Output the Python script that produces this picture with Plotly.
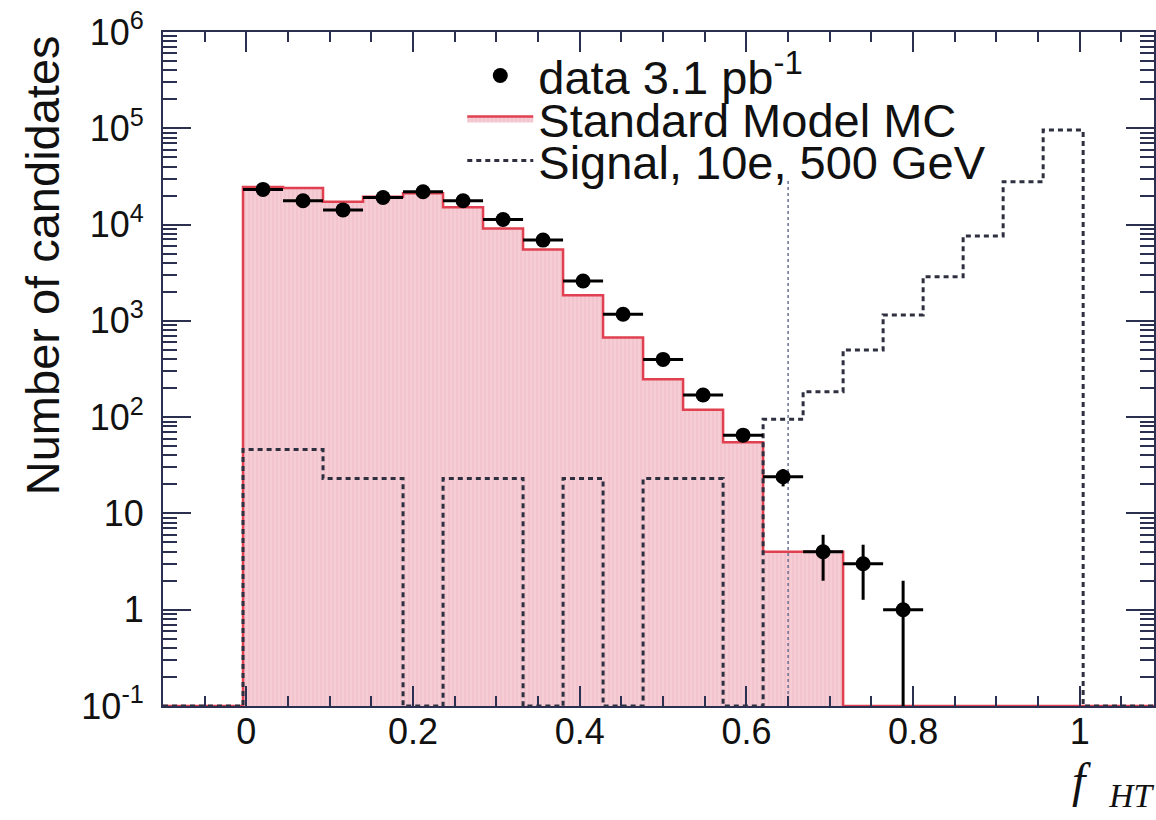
import numpy as np
import plotly.graph_objects as go

# ---------------- data ----------------
bin_edges = [-0.1, -0.052, -0.004, 0.044, 0.092, 0.14, 0.188, 0.236, 0.284, 0.332,
             0.38, 0.428, 0.476, 0.524, 0.572, 0.62, 0.668, 0.716, 0.764, 0.812,
             0.86, 0.908, 0.956, 1.004, 1.052, 1.1]

sm_mc = [0, 0, 24500, 24000, 17300, 19400, 21100, 15100, 9100, 5500, 1850, 670,
         247, 119, 55, 4, 4, 0, 0, 0, 0, 0, 0, 0, 0]

data_counts = [0, 0, 23200, 17700, 14200, 19100, 21900, 17700, 11300, 6900, 2590,
               1170, 398, 170, 65, 24, 4, 3, 1, 0, 0, 0, 0, 0, 0]

signal = [0, 0, 46, 46, 23, 23, 0, 23, 23, 0, 23, 0, 23, 23, 0, 95, 184, 497,
          1150, 2870, 7600, 27900, 95700, 0, 0]

cut_x = 0.65
cut_top = 2.9e4

x_ticks = [0, 0.2, 0.4, 0.6, 0.8, 1.0]
x_ticktext = ["0", "0.2", "0.4", "0.6", "0.8", "1"]
y_ticks = [0.1, 1, 10, 100, 1e3, 1e4, 1e5, 1e6]
y_ticktext = ["10<sup>-1</sup>", "1", "10", "10<sup>2</sup>", "10<sup>3</sup>",
              "10<sup>4</sup>", "10<sup>5</sup>", "10<sup>6</sup>"]

legend_labels = ["data 3.1 pb<sup>-1</sup>", "Standard Model MC", "Signal, 10e, 500 GeV"]

# ---------------- helpers ----------------
Y_FLOOR = 0.1


def step_xy(edges, vals, floor):
    xs, ys = [], []
    for i, v in enumerate(vals):
        y = v if v > 0 else floor
        xs += [edges[i], edges[i + 1]]
        ys += [y, y]
    return xs, ys


centers = [(bin_edges[i] + bin_edges[i + 1]) / 2 for i in range(len(data_counts))]
half_w = [(bin_edges[i + 1] - bin_edges[i]) / 2 for i in range(len(data_counts))]
dx, dy, ex, eyp, eym = [], [], [], [], []
for c, hw, n in zip(centers, half_w, data_counts):
    if n > 0:
        dx.append(c)
        dy.append(n)
        ex.append(hw)
        e = np.sqrt(n)
        eyp.append(e)
        eym.append(n - max(n - e, 1e-3))

AX = "#2b3050"
FONT = "Liberation Sans"

fig = go.Figure()

sx, sy = step_xy(bin_edges, sm_mc, Y_FLOOR)
fig.add_trace(go.Scatter(
    x=sx, y=sy, mode="lines", fill="toself",
    fillcolor="#f6cdd5",
    fillpattern=dict(shape="|", bgcolor="#f6cdd5", fgcolor="#e8a7b6", size=4, solidity=0.25),
    line=dict(color="#e0404f", width=2.5),
    name=legend_labels[1], legend="legend2",
))

gx, gy = step_xy(bin_edges, signal, Y_FLOOR)
fig.add_trace(go.Scatter(
    x=gx, y=gy, mode="lines",
    line=dict(color="#2e3040", width=3, dash="5px,4px"),
    name=legend_labels[2], legend="legend3",
))

fig.add_trace(go.Scatter(
    x=[cut_x, cut_x], y=[Y_FLOOR, cut_top], mode="lines",
    line=dict(color="#6a7090", width=1.5, dash="dot"),
    showlegend=False, hoverinfo="skip",
))

fig.add_trace(go.Scatter(
    x=dx, y=dy, mode="markers",
    marker=dict(color="black", size=15),
    error_x=dict(type="data", array=ex, color="black", thickness=3, width=0),
    error_y=dict(type="data", array=eyp, arrayminus=eym, color="black", thickness=3, width=0),
    name=legend_labels[0], legend="legend",
))

leg_common = dict(xanchor="left", yanchor="middle", bgcolor="rgba(0,0,0,0)",
                  font=dict(family=FONT, size=47, color="#111"), borderwidth=0,
                  itemwidth=66)

LEG_X = 0.302
fig.update_layout(
    width=1156, height=820,
    margin=dict(l=163, r=0, t=32, b=114),
    paper_bgcolor="white", plot_bgcolor="white",
    legend=dict(x=LEG_X, y=(706 - 76) / 674, **leg_common),
    legend2=dict(x=LEG_X, y=(706 - 119) / 674, **leg_common),
    legend3=dict(x=LEG_X, y=(706 - 161) / 674, **leg_common),
    xaxis=dict(
        range=[-0.1, 1.089], showline=True, linecolor=AX, linewidth=2, mirror="ticks",
        tickmode="array", tickvals=x_ticks, ticktext=x_ticktext,
        ticks="inside", ticklen=20, tickwidth=1.5, tickcolor=AX,
        minor=dict(dtick=0.05, tick0=0, ticks="inside", ticklen=10, tickwidth=1.5, tickcolor=AX),
        showgrid=False, zeroline=False,
        tickfont=dict(family=FONT, size=36, color="#111"),
        ticklabelstandoff=-7,
    ),
    yaxis=dict(
        type="log", range=[-1, 6], showline=True, linecolor=AX, linewidth=2, mirror="ticks",
        tickmode="array", tickvals=y_ticks, ticktext=y_ticktext,
        ticks="inside", ticklen=28, tickwidth=1.5, tickcolor=AX,
        minor=dict(tickvals=[k * 10.0 ** d for d in range(-1, 6) for k in range(2, 10)],
                   ticks="inside", ticklen=14, tickwidth=1.5, tickcolor=AX),
        showgrid=False, zeroline=False,
        tickfont=dict(family=FONT, size=36, color="#111"),
        ticklabelstandoff=10,
    ),
    annotations=[
        dict(text="Number of candidates", textangle=-90, xref="paper", yref="paper",
             x=(42 - 163) / 993, y=(706 - 33) / 674, xanchor="center", yanchor="top",
             showarrow=False, font=dict(family=FONT, size=47, color="#111")),
        dict(text="<i>f</i>&nbsp;&nbsp;<sub><i>HT</i></sub>", xref="paper", yref="paper",
             x=(1072 - 163) / 993, y=(706 - 816) / 674, xanchor="left", yanchor="bottom",
             showarrow=False, font=dict(family="Liberation Serif", size=48, color="#111")),
    ],
)

fig.write_html("out.html")
